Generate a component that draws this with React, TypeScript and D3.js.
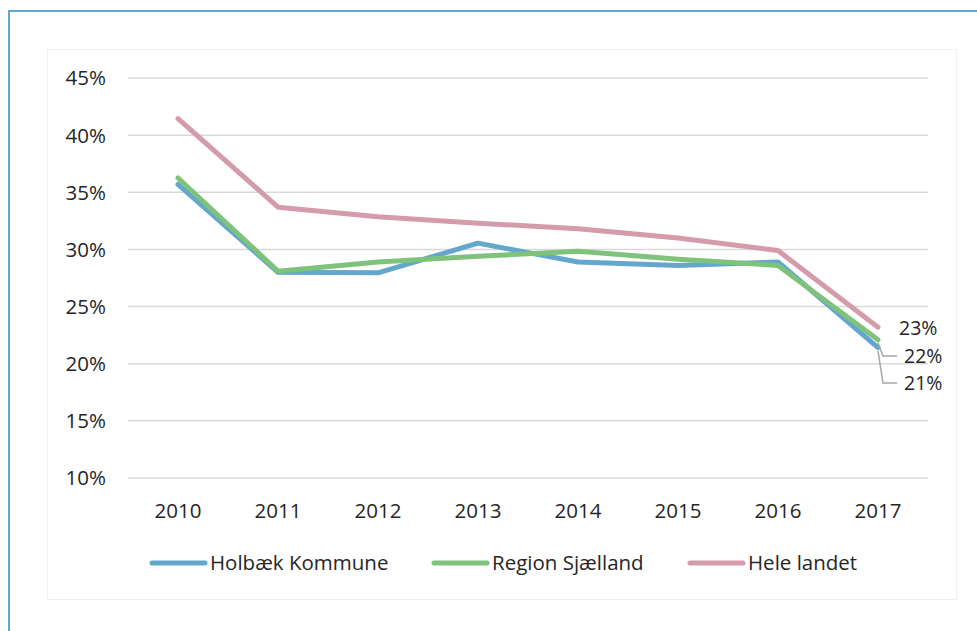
import React, { useRef, useEffect } from 'react';
import * as d3 from 'd3';

const years = ['2010', '2011', '2012', '2013', '2014', '2015', '2016', '2017'];
const holbaek = [35.7, 28.0, 27.95, 30.55, 28.9, 28.6, 28.9, 21.4];
const region = [36.25, 28.1, 28.9, 29.4, 29.85, 29.15, 28.6, 22.1];
const heleLandet = [41.45, 33.7, 32.85, 32.3, 31.8, 31.0, 29.9, 23.2];
const seriesNames = ['Holbæk Kommune', 'Region Sjælland', 'Hele landet'];
const seriesColors = ['#63a7cc', '#7ec27c', '#d49bab'];
const yTicks = [10, 15, 20, 25, 30, 35, 40, 45];
const endLabels = ['21%', '22%', '23%'];

const App = () => {
  const svgRef = useRef<SVGSVGElement>(null);

  useEffect(() => {
    const width = 977;
    const height = 631;
    const font = "'Open Sans', sans-serif";
    const fontSize = '20.5px';

    const svg = d3.select(svgRef.current);
    svg.selectAll('*').remove();
    svg.attr('width', width).attr('height', height);

    // outer frame (cut at the right and bottom edges)
    svg
      .append('rect')
      .attr('x', 9)
      .attr('y', 11)
      .attr('width', 1000)
      .attr('height', 700)
      .attr('fill', '#fff')
      .attr('stroke', '#62a8cc')
      .attr('stroke-width', 2);

    // faint chart area
    svg
      .append('rect')
      .attr('x', 47.5)
      .attr('y', 49.5)
      .attr('width', 909)
      .attr('height', 550)
      .attr('fill', 'none')
      .attr('stroke', '#f0f0f0')
      .attr('stroke-width', 1);

    const x = d3.scaleBand().domain(years).range([128, 928]).padding(0);
    const cx = (d: string) => (x(d) as number) + x.bandwidth() / 2;
    const y = d3.scaleLinear().domain([10, 45]).range([478, 78]);

    // grid
    svg
      .append('g')
      .selectAll('line')
      .data(yTicks)
      .join('line')
      .attr('x1', 128)
      .attr('x2', 928)
      .attr('y1', d => y(d))
      .attr('y2', d => y(d))
      .attr('stroke', '#d9d9d9')
      .attr('stroke-width', 1.5);

    // y labels
    svg
      .append('g')
      .selectAll('text')
      .data(yTicks)
      .join('text')
      .attr('x', 106)
      .attr('y', d => y(d))
      .attr('dy', '0.36em')
      .attr('text-anchor', 'end')
      .style('font-family', font)
      .style('font-size', fontSize)
      .style('fill', '#262626')
      .text(d => `${d}%`);

    // x labels
    svg
      .append('g')
      .selectAll('text')
      .data(years)
      .join('text')
      .attr('x', d => cx(d))
      .attr('y', 518)
      .attr('text-anchor', 'middle')
      .style('font-family', font)
      .style('font-size', fontSize)
      .style('fill', '#262626')
      .text(d => d);

    const allSeries = [holbaek, region, heleLandet];
    const line = d3
      .line<number>()
      .x((_, i) => cx(years[i]))
      .y(d => y(d));

    // draw order: pink, blue, green on top
    [2, 0, 1].forEach(i => {
      svg
        .append('path')
        .datum(allSeries[i])
        .attr('d', line)
        .attr('fill', 'none')
        .attr('stroke', seriesColors[i])
        .attr('stroke-width', 5)
        .attr('stroke-linecap', 'round')
        .attr('stroke-linejoin', 'round');
    });

    // end labels with leaders
    const last = years.length - 1;
    const lastX = cx(years[last]);
    const labelY = [383, 356, 328];
    const labelX = [904, 904, 899];
    allSeries.forEach((s, i) => {
      if (i < 2) {
        svg
          .append('polyline')
          .attr(
            'points',
            `${lastX},${y(s[last]) + 3} ${lastX + 5},${labelY[i]} ${labelX[i] - 7},${labelY[i]}`
          )
          .attr('fill', 'none')
          .attr('stroke', '#a6a6a6')
          .attr('stroke-width', 1.5);
      }
      svg
        .append('text')
        .attr('x', labelX[i])
        .attr('y', labelY[i])
        .attr('dy', '0.36em')
        .style('font-family', font)
        .style('font-size', '19.5px')
        .style('fill', '#262626')
        .text(endLabels[i]);
    });

    // legend
    const legendX = [152, 434, 690];
    const legend = svg
      .append('g')
      .selectAll('g')
      .data(seriesNames)
      .join('g')
      .attr('transform', (_, i) => `translate(${legendX[i]}, 563)`);
    legend
      .append('line')
      .attr('x1', 0)
      .attr('x2', 53)
      .attr('stroke', (_, i) => seriesColors[i])
      .attr('stroke-width', 5)
      .attr('stroke-linecap', 'round');
    legend
      .append('text')
      .attr('x', 58)
      .attr('dy', '0.36em')
      .style('font-family', font)
      .style('font-size', fontSize)
      .style('fill', '#262626')
      .text(d => d);
  }, []);

  return (
    <svg
      ref={svgRef}
      style={{ position: 'absolute', left: 0, top: 0, display: 'block' }}
    ></svg>
  );
};

export default App;
